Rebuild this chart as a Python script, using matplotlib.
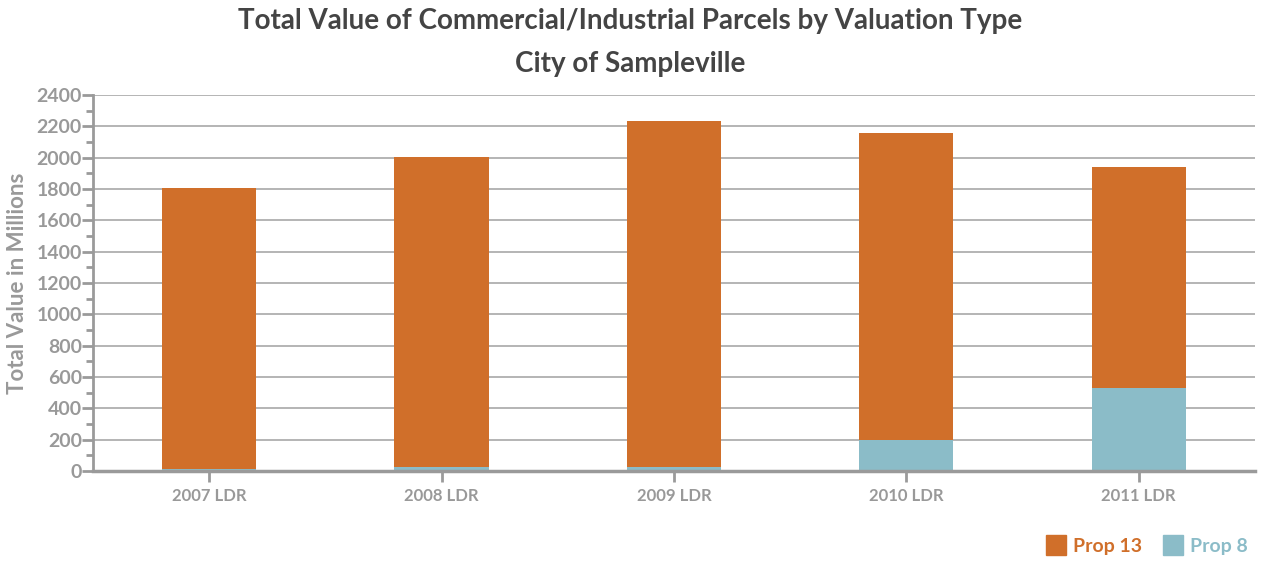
import numpy as np
import matplotlib
matplotlib.use('Agg')
import matplotlib.pyplot as plt
from matplotlib.lines import Line2D

plt.rcParams['font.family'] = ['Lato', 'DejaVu Sans']

# data (millions)
years = ['2007 LDR', '2008 LDR', '2009 LDR', '2010 LDR', '2011 LDR']
prop8 = [12, 25, 28, 198, 530]
prop13 = [1794, 1980, 2206, 1959, 1410]

orange = '#d06f2a'
blue = '#8bbcc8'
grey = '#999999'
axcol = '#9a9a9a'

fig = plt.figure(figsize=(12.61, 5.61), dpi=100)
ax = fig.add_axes([0.0737, 0.1604, 0.9215, 0.6703])

x = np.arange(len(years))
ax.bar(x, prop8, width=0.405, color=blue, zorder=3)
ax.bar(x, prop13, width=0.405, bottom=prop8, color=orange, zorder=3)

ax.set_xlim(-0.5, len(years) - 0.5)
ax.set_ylim(0, 2400)
ax.set_yticks(np.arange(0, 2401, 200))
ax.set_yticks(np.arange(100, 2400, 200), minor=True)
ax.yaxis.grid(True, color='#a8a8a8', linewidth=1.2, zorder=0)
ax.set_xticks(x)
ax.set_xticklabels(years)

for s in ['top', 'right']:
    ax.spines[s].set_visible(False)
ax.spines['left'].set_color(axcol)
ax.spines['left'].set_linewidth(2)
ax.spines['bottom'].set_color(axcol)
ax.spines['bottom'].set_linewidth(2.5)
ax.spines['bottom'].set_zorder(4)

ax.tick_params(axis='y', which='major', length=8, width=2, color=axcol,
               labelsize=14, labelcolor=grey, pad=0)
ax.tick_params(axis='y', which='minor', length=5, width=2, color=axcol)
ax.tick_params(axis='x', length=8, width=2, color=axcol,
               labelsize=12, labelcolor=grey, pad=4)
for lbl in ax.get_yticklabels() + ax.get_xticklabels():
    lbl.set_fontweight('bold')

ax.set_ylabel('Total Value in Millions', fontsize=16, color=grey,
              fontweight='bold', labelpad=6)

fig.text(0.5, 0.962, 'Total Value of Commercial/Industrial Parcels by Valuation Type',
         ha='center', va='center', fontsize=20, fontweight='bold', color='#444444')
fig.text(0.5, 0.886, 'City of Sampleville', ha='center', va='center',
         fontsize=20, fontweight='bold', color='#444444')

# legend
handles = [Line2D([], [], marker='s', linestyle='', markersize=14,
                  markerfacecolor=orange, markeredgecolor=orange),
           Line2D([], [], marker='s', linestyle='', markersize=14,
                  markerfacecolor=blue, markeredgecolor=blue)]
leg = fig.legend(handles, ['Prop 13', 'Prop 8'], loc='center right',
                 bbox_to_anchor=(1.003, 0.026), ncol=2, frameon=False,
                 fontsize=14, handletextpad=0.25, columnspacing=1.0,
                 handlelength=1.2)
for t, c in zip(leg.get_texts(), [orange, blue]):
    t.set_color(c)
    t.set_fontweight('bold')

fig.savefig('out.png', dpi=100)
